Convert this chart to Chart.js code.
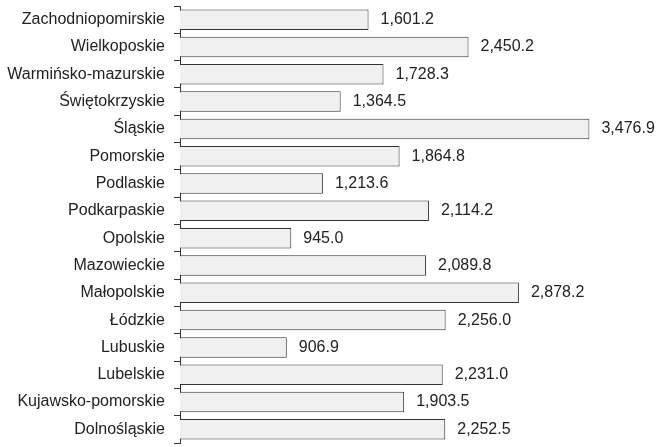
<!DOCTYPE html>
<html>
<head>
<meta charset="utf-8">
<script src="https://cdn.jsdelivr.net/npm/chart.js@4/dist/chart.umd.min.js"></script>
<style>
  html, body { margin: 0; padding: 0; background: #fff; }
  #wrap { width: 657px; height: 447px; }
</style>
</head>
<body>
<div id="wrap"><canvas id="c" width="657" height="447"></canvas></div>
<script>
// Voivodeships, top to bottom
const regions = [
  'Zachodniopomirskie', 'Wielkoposkie', 'Warmińsko-mazurskie', 'Świętokrzyskie',
  'Śląskie', 'Pomorskie', 'Podlaskie', 'Podkarpaskie', 'Opolskie', 'Mazowieckie',
  'Małopolskie', 'Łódzkie', 'Lubuskie', 'Lubelskie', 'Kujawsko-pomorskie', 'Dolnośląskie'
];
const values = [
  1601.2, 2450.2, 1728.3, 1364.5,
  3476.9, 1864.8, 1213.6, 2114.2, 945.0, 2089.8,
  2878.2, 2256.0, 906.9, 2231.0, 1903.5, 2252.5
];
const xMax = 4000;

const FONT = { family: '"Liberation Sans", Arial, sans-serif', size: 16 };
const TEXT = '#222';

const fmt = v => v.toLocaleString('en-US', { minimumFractionDigits: 1, maximumFractionDigits: 1 });

// Writes each bar's value just past its end
const valueLabels = {
  id: 'valueLabels',
  afterDatasetsDraw(chart) {
    const ctx = chart.ctx;
    const meta = chart.getDatasetMeta(0);
    ctx.save();
    ctx.font = FONT.size + 'px ' + FONT.family;
    ctx.fillStyle = TEXT;
    ctx.textAlign = 'left';
    ctx.textBaseline = 'middle';
    meta.data.forEach((bar, i) => {
      ctx.fillText(fmt(values[i]), bar.x + 12, bar.y);
    });
    ctx.restore();
  }
};

new Chart(document.getElementById('c'), {
  type: 'bar',
  data: {
    labels: regions,
    datasets: [{
      data: values,
      backgroundColor: '#f0f0f0',
      borderColor: '#333',
      borderWidth: 1,
      borderSkipped: 'start',
      categoryPercentage: 0.75,
      barPercentage: 1
    }]
  },
  options: {
    indexAxis: 'y',
    responsive: false,
    animation: false,
    devicePixelRatio: 1,
    layout: { padding: { top: 6, bottom: 4, left: 0, right: 6 } },
    plugins: { legend: { display: false }, tooltip: { enabled: false } },
    scales: {
      x: { display: false, min: 0, max: xMax },
      y: {
        afterFit(scale) {
          scale.width = 180;
          scale.paddingTop = 0;
          scale.paddingBottom = 0;
        },
        border: { display: true, color: '#333', width: 1 },
        grid: {
          drawOnChartArea: false,
          drawTicks: true,
          tickLength: 6,
          color: '#333',
          offset: true
        },
        ticks: { color: TEXT, font: FONT, padding: 9, autoSkip: false }
      }
    }
  },
  plugins: [valueLabels]
});
</script>
</body>
</html>
